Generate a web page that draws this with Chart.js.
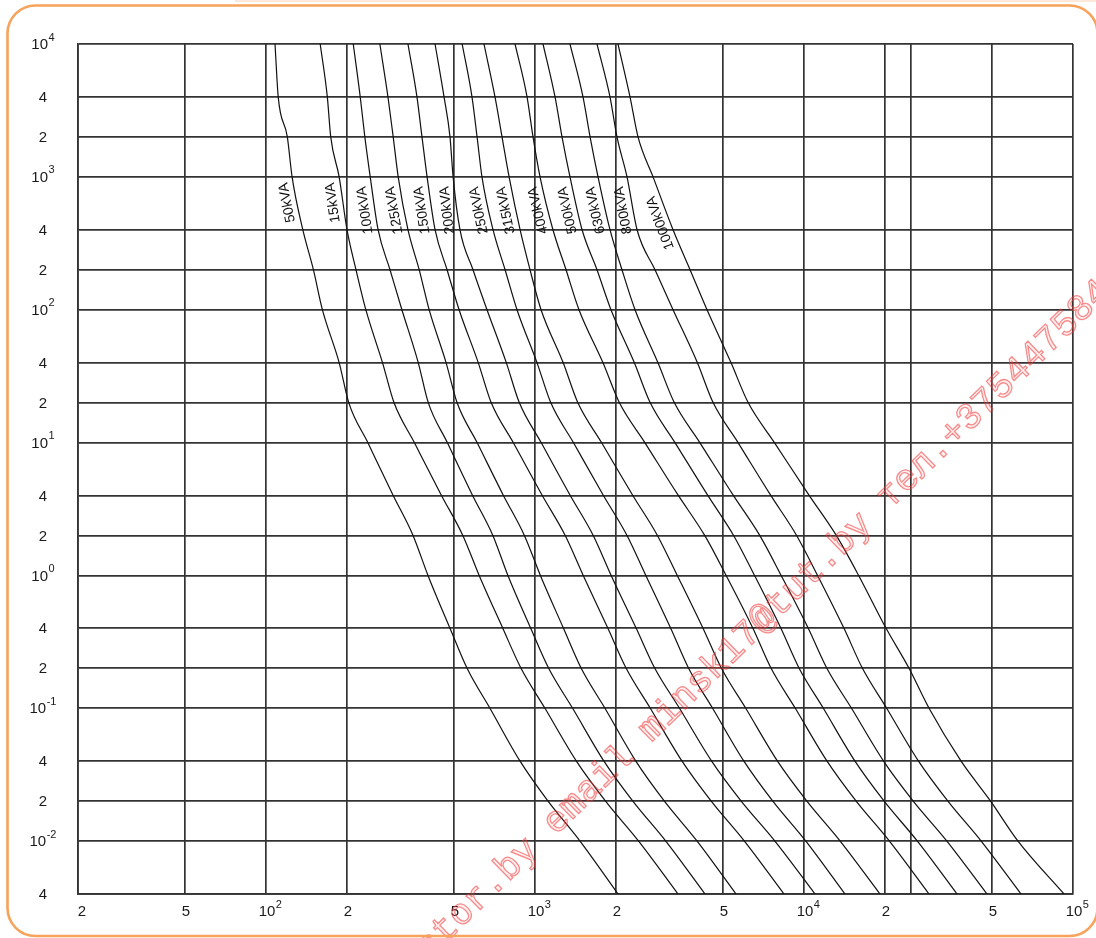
<!DOCTYPE html>
<html><head><meta charset="utf-8">
<script src="https://cdn.jsdelivr.net/npm/chart.js@4.4.1/dist/chart.umd.min.js"></script>
<style>html,body{margin:0;padding:0;background:#fff;}canvas{display:block;}</style>
</head><body>
<canvas id="c" width="1096" height="938"></canvas>
<script>
// time axis (s) at which each curve's current (A) was read
const times = [10000, 4000, 2000, 1000, 400, 200, 100, 40, 20, 10, 4, 2, 1, 0.4, 0.2, 0.1, 0.04, 0.02, 0.01, 0.004];
const seriesNames = ['50kVA','15kVA','100kVA','125kVA','150kVA','200kVA','250kVA','315kVA','400kVA','500kVA','630kVA','800kVA','1000kVA'];
const curve50kVA   = [108,111,120,125,137,150,162,187,203,239,297,352,400,483,559,680,880,1118,1470,2035];
const curve15kVA   = [159,169,174,187,200,216,235,271,299,356,449,539,620,759,887,1089,1425,1829,2428,3401];
const curve100kVA  = [211,224,233,244,261,289,320,368,401,472,586,697,793,964,1124,1380,1804,2310,3063,4285];
const curve125kVA  = [265,284,297,310,337,371,404,467,513,609,763,913,1047,1276,1485,1820,2370,3027,4006,5588];
const curve150kVA  = [337,364,380,397,425,471,522,615,687,830,1064,1295,1511,1866,2182,2683,3520,4519,6004,8425];
const curve200kVA  = [425,459,483,496,526,588,663,782,874,1054,1352,1646,1919,2378,2788,3445,4535,5841,7795,10990];
const curve250kVA  = [536,583,609,635,698,774,857,1017,1144,1389,1796,2198,2582,3195,3724,4573,5978,7656,10160,14200];
const curve315kVA  = [646,710,754,801,880,958,1053,1272,1442,1767,2310,2851,3379,4212,4931,6073,7971,10250,13630,19160];
const curve400kVA  = [843,934,983,1044,1166,1304,1457,1788,2058,2560,3410,4274,5133,6457,7544,9283,12180,15630,20780,29150];
const curve500kVA  = [1071,1187,1260,1349,1496,1700,1916,2339,2679,3314,4389,5473,6547,8206,9590,11800,15470,19860,26400,37060];
const curve630kVA  = [1349,1508,1602,1715,1900,2105,2354,2863,3294,4099,5461,6845,8221,10370,12160,15020,19760,25470,33980,47890];
const curve800kVA  = [1700,1900,2017,2198,2395,2793,3259,4012,4592,5685,7525,9386,11230,14080,16490,20290,26650,34270,45570,64090];
const curve1000kVA = [2035,2255,2415,2747,3259,3770,4359,5351,6199,7762,10450,13180,15960,20190,24570,29170,38370,49400,62450,92590];
const currents = [curve50kVA,curve15kVA,curve100kVA,curve125kVA,curve150kVA,curve200kVA,curve250kVA,curve315kVA,curve400kVA,curve500kVA,curve630kVA,curve800kVA,curve1000kVA];

const xTickValues = [20, 50, 100, 200, 500, 1000, 2000, 5000, 10000, 20000, 50000, 100000];
const xTickLabels = ['2','5','10^2','2','5','10^3','2','5','10^4','2','5','10^5'];
const xExtraGrid  = [25000];
const yTickValues = [10000, 4000, 2000, 1000, 400, 200, 100, 40, 20, 10, 4, 2, 1, 0.4, 0.2, 0.1, 0.04, 0.02, 0.01, 0.004];
const yTickLabels = ['10^4','4','2','10^3','4','2','10^2','4','2','10^1','4','2','10^0','4','2','10^-1','4','2','10^-2','4'];

const FONT = '"Liberation Sans", Arial, Helvetica, sans-serif';
const labelAnchorTime = [640,640,560,560,560,560,560,560,560,560,560,560,450];

function drawSupLabel(ctx, text, cx, cy, mode) {
  const parts = text.split('^');
  const main = parts[0], exp = parts[1];
  ctx.font = '15px ' + FONT;
  const wm = ctx.measureText(main).width;
  let we = 0;
  if (exp !== undefined) { ctx.font = '11px ' + FONT; we = ctx.measureText(exp).width + 0.5; }
  let x0 = mode === 'whole' ? cx - (wm + we) / 2 : cx - wm / 2;
  ctx.textBaseline = 'middle';
  ctx.textAlign = 'left';
  ctx.font = '15px ' + FONT;
  ctx.fillText(main, x0, cy);
  if (exp !== undefined) {
    ctx.font = '11px ' + FONT;
    ctx.fillText(exp, x0 + wm + 0.5, cy - 7.5);
  }
}

const decorPlugin = {
  id: 'decor',
  afterDatasetsDraw(chart) {
    const ctx = chart.ctx, ys = chart.scales.y;
    chart.data.datasets.forEach((ds, i) => {
      const meta = chart.getDatasetMeta(i);
      const py = ys.getPixelForValue(labelAnchorTime[i]);
      const pts = meta.data;
      for (let j = 0; j < pts.length - 1; j++) {
        const a = pts[j], b = pts[j + 1];
        if (py >= a.y && py <= b.y) {
          const f = (py - a.y) / (b.y - a.y);
          const px = a.x + f * (b.x - a.x);
          const ang = Math.atan2(a.y - b.y, a.x - b.x);
          ctx.save();
          ctx.translate(px - 10, py);
          ctx.rotate(ang);
          ctx.font = '14px ' + FONT;
          ctx.fillStyle = '#111';
          ctx.textAlign = 'center';
          ctx.textBaseline = 'middle';
          ctx.fillText(ds.label, 0, 0);
          ctx.restore();
          break;
        }
      }
    });
  },
  afterDraw(chart) {
    const ctx = chart.ctx, xs = chart.scales.x, ys = chart.scales.y;
    const area = chart.chartArea;
    ctx.save();
    ctx.fillStyle = '#1a1a1a';
    yTickValues.forEach((v, i) => {
      drawSupLabel(ctx, yTickLabels[i], 43, ys.getPixelForValue(v) + 1, 'whole');
    });
    xTickValues.forEach((v, i) => {
      const px = Math.max(xs.getPixelForValue(v) + 1, area.left + 4);
      drawSupLabel(ctx, xTickLabels[i], px, 912, 'main');
    });
    ctx.restore();

    // watermark
    ctx.save();
    ctx.translate(557, 821);
    ctx.rotate(-44.3 * Math.PI / 180);
    ctx.font = '37px "Liberation Mono", "Courier New", monospace';
    const prefix = 'www.transistor.by ';
    const full = prefix + 'email minsk17@tut.by тел.+375447584785';
    const off = ctx.measureText(prefix).width + ctx.measureText('e').width / 2;
    ctx.textBaseline = 'middle';
    ctx.textAlign = 'left';
    ctx.lineWidth = 1.3;
    ctx.strokeStyle = 'rgba(240,50,50,0.55)';
    ctx.fillStyle = 'rgba(255,120,120,0.12)';
    ctx.fillText(full, -off, 0);
    ctx.strokeText(full, -off, 0);
    ctx.restore();

    // orange rounded frame
    ctx.save();
    ctx.strokeStyle = '#f6a35c';
    ctx.lineWidth = 2.6;
    ctx.beginPath();
    ctx.roundRect(7.5, 5.5, 1090, 930.5, 28);
    ctx.stroke();
    ctx.fillStyle = 'rgba(248,190,150,0.35)';
    ctx.fillRect(235, 0, 861, 2);
    ctx.restore();
  }
};

const datasets = seriesNames.map((name, i) => ({
  label: name,
  data: times.map((t, j) => ({ x: currents[i][j], y: t })),
  showLine: true,
  borderColor: '#111',
  borderWidth: 1.2,
  pointRadius: 0,
  cubicInterpolationMode: 'monotone',
  fill: false
}));

const gridValuesX = xTickValues.concat(xExtraGrid).sort((a, b) => a - b);

new Chart(document.getElementById('c'), {
  type: 'scatter',
  data: { datasets },
  options: {
    responsive: false,
    animation: false,
    devicePixelRatio: 1,
    layout: { padding: { left: 78, right: 23, top: 44, bottom: 44 } },
    plugins: { legend: { display: false }, tooltip: { enabled: false } },
    scales: {
      x: {
        type: 'logarithmic', min: 20, max: 100000,
        afterBuildTicks: (axis) => { axis.ticks = gridValuesX.map(v => ({ value: v })); },
        ticks: { display: false },
        grid: { color: '#333', lineWidth: 1.7, drawTicks: false },
        border: { display: true, color: '#333', width: 1.7 }
      },
      y: {
        type: 'logarithmic', min: 0.004, max: 10000,
        afterBuildTicks: (axis) => { axis.ticks = yTickValues.slice().sort((a, b) => a - b).map(v => ({ value: v })); },
        ticks: { display: false },
        grid: { color: '#333', lineWidth: 1.7, drawTicks: false },
        border: { display: true, color: '#333', width: 1.7 }
      }
    }
  },
  plugins: [decorPlugin]
});
</script>
</body></html>
